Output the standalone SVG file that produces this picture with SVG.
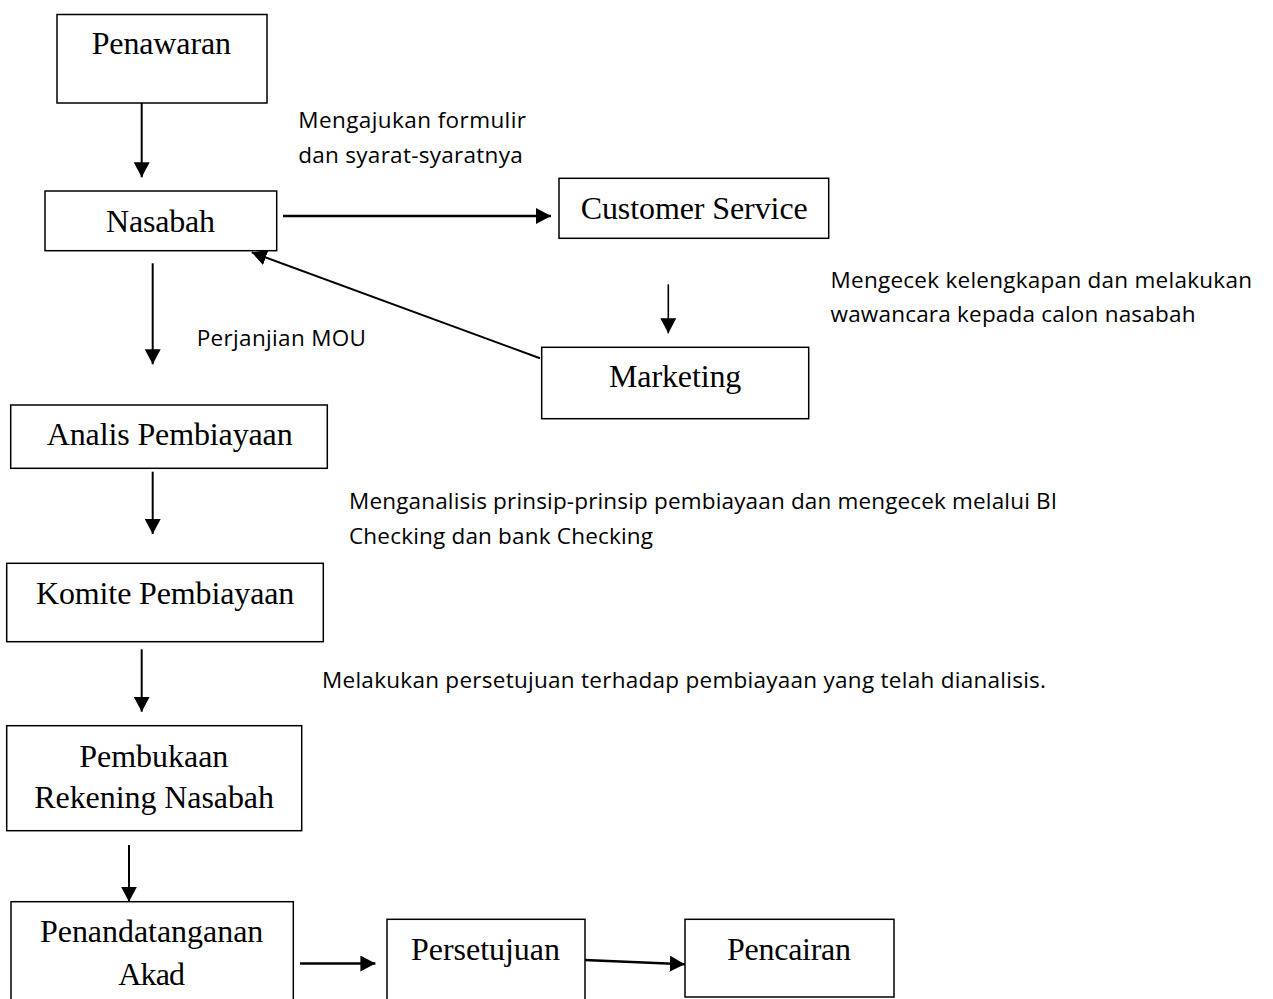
<svg xmlns="http://www.w3.org/2000/svg" width="1273" height="999" viewBox="0 0 1273 999">
<style>
.box{fill:#fff;stroke:#000;stroke-width:1.5}
.t{font-family:"Liberation Serif","Times New Roman",serif;font-size:32px;fill:#000}
.s{font-family:"Open Sans","Noto Sans",sans-serif;font-size:22.5px;fill:#000}
.c{stroke:#000;stroke-width:2;fill:none;marker-end:url(#ah)}
</style>
<defs>
<marker id="ah" viewBox="0 0 15 16" refX="15" refY="8" markerWidth="15" markerHeight="16" markerUnits="userSpaceOnUse" orient="auto">
<path d="M0,0 L15,8 L0,16 Z" fill="#000"/>
</marker>
</defs>
<rect width="1273" height="999" fill="#fff"/>
<g id="connectors">
<line class="c" x1="141.7" y1="103" x2="141.7" y2="177.3"/>
<line class="c" x1="283" y1="216" x2="551" y2="216" style="stroke-width:2.5"/>
<line class="c" x1="668.3" y1="284.3" x2="668.3" y2="333.3" style="stroke-width:1.6"/>
<line class="c" x1="540" y1="358.3" x2="251.7" y2="252.3"/>
<line class="c" x1="152.7" y1="263.3" x2="152.7" y2="364.3"/>
<line class="c" x1="152.7" y1="471.7" x2="152.7" y2="534"/>
<line class="c" x1="141.7" y1="649.3" x2="141.7" y2="711.7"/>
<line class="c" x1="129" y1="845" x2="129" y2="901.7"/>
<line class="c" x1="300" y1="963.5" x2="375.4" y2="963.5" style="stroke-width:2.5"/>
<line class="c" x1="584.4" y1="960" x2="684.8" y2="964.3" style="stroke-width:2.5"/>
</g>
<g id="penawaran"><rect class="box" x="57" y="14.5" width="210" height="88.5"/><text class="t" x="91.7" y="54.3" textLength="139.3">Penawaran</text></g>
<g id="nasabah"><rect class="box" x="45" y="191" width="231.7" height="59.7"/><text class="t" x="106" y="231.7" textLength="109">Nasabah</text></g>
<g id="customer-service"><rect class="box" x="559" y="178.3" width="269.7" height="60"/><text class="t" x="580.7" y="219.3" textLength="227">Customer Service</text></g>
<g id="marketing"><rect class="box" x="541.7" y="347.3" width="267" height="71.4"/><text class="t" x="609" y="386.7" textLength="132.3">Marketing</text></g>
<g id="analis"><rect class="box" x="10.7" y="405" width="316.6" height="63.3"/><text class="t" x="46.7" y="445" textLength="246">Analis Pembiayaan</text></g>
<g id="komite"><rect class="box" x="6.7" y="563.3" width="316.6" height="78.4"/><text class="t" x="36" y="604" textLength="258.3">Komite Pembiayaan</text></g>
<g id="pembukaan"><rect class="box" x="6.7" y="725.7" width="295" height="105"/><text class="t" x="79.3" y="766.7" textLength="149">Pembukaan</text><text class="t" x="34.3" y="808.3" textLength="239.7">Rekening Nasabah</text></g>
<g id="penandatanganan"><rect class="box" x="11" y="901.7" width="282.3" height="110"/><text class="t" x="40" y="941.7" textLength="223.3">Penandatanganan</text><text class="t" x="118.3" y="985" textLength="66.7">Akad</text></g>
<g id="persetujuan"><rect class="box" x="387" y="919.3" width="198" height="95"/><text class="t" x="411" y="960" textLength="149">Persetujuan</text></g>
<g id="pencairan"><rect class="box" x="685" y="919.3" width="209" height="77.7"/><text class="t" x="727" y="960" textLength="124">Pencairan</text></g>
<g id="labels">
<text class="s" x="298.3" y="128.3" textLength="227.7">Mengajukan formulir</text>
<text class="s" x="298.3" y="163.3" textLength="224.4">dan syarat-syaratnya</text>
<text class="s" x="830.5" y="287.7" textLength="421.5">Mengecek kelengkapan dan melakukan</text>
<text class="s" x="830.5" y="321.5" textLength="365">wawancara kepada calon nasabah</text>
<text class="s" x="196.7" y="345.5" textLength="169.3">Perjanjian MOU</text>
<text class="s" x="349" y="508.5" textLength="708">Menganalisis prinsip-prinsip pembiayaan dan mengecek melalui BI</text>
<text class="s" x="349" y="543.5" textLength="304">Checking dan bank Checking</text>
<text class="s" x="322" y="688" textLength="724">Melakukan persetujuan terhadap pembiayaan yang telah dianalisis.</text>
</g>
</svg>
